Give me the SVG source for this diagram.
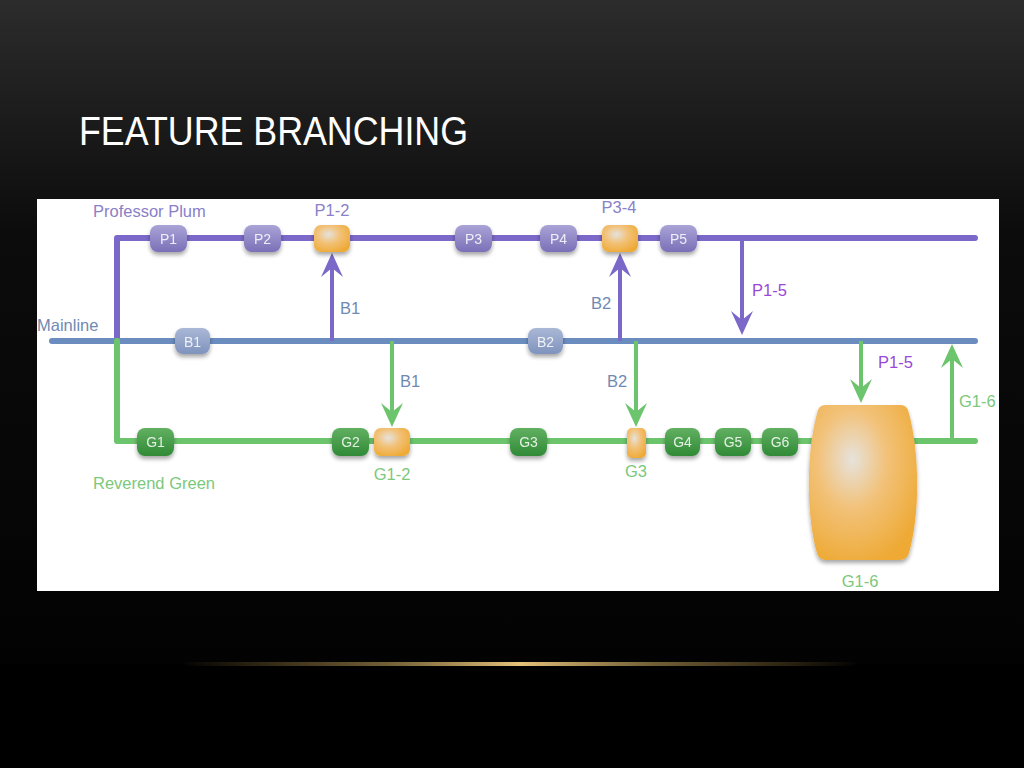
<svg xmlns="http://www.w3.org/2000/svg" width="1024" height="768" viewBox="0 0 1024 768">
<defs>
<linearGradient id="bg" x1="0" y1="0" x2="0" y2="1">
<stop offset="0" stop-color="#2c2c2c"/>
<stop offset="0.3" stop-color="#0c0c0c"/>
<stop offset="1" stop-color="#000"/>
</linearGradient>
<radialGradient id="glow" cx="0.5" cy="1" r="0.5">
<stop offset="0" stop-color="#222"/>
<stop offset="1" stop-color="#000" stop-opacity="0"/>
</radialGradient>
<linearGradient id="gold" x1="0" y1="0" x2="1" y2="0">
<stop offset="0" stop-color="#c9a24a" stop-opacity="0"/>
<stop offset="0.3" stop-color="#b89a58" stop-opacity="0.6"/>
<stop offset="0.5" stop-color="#e6c27a"/>
<stop offset="0.7" stop-color="#b89a58" stop-opacity="0.6"/>
<stop offset="1" stop-color="#c9a24a" stop-opacity="0"/>
</linearGradient>
<linearGradient id="gP" x1="0" y1="0" x2="0" y2="1">
<stop offset="0" stop-color="#aaa3d6"/>
<stop offset="1" stop-color="#7a70b8"/>
</linearGradient>
<linearGradient id="gB" x1="0" y1="0" x2="0" y2="1">
<stop offset="0" stop-color="#aab8d6"/>
<stop offset="1" stop-color="#7f93bd"/>
</linearGradient>
<linearGradient id="gG" x1="0" y1="0" x2="0" y2="1">
<stop offset="0" stop-color="#62b062"/>
<stop offset="1" stop-color="#2f8a36"/>
</linearGradient>
<radialGradient id="gO" cx="0.4" cy="0.35" r="0.7">
<stop offset="0" stop-color="#e6e2dc"/>
<stop offset="0.45" stop-color="#f2c27a"/>
<stop offset="1" stop-color="#eeaa36"/>
</radialGradient>
<filter id="sh" x="-30%" y="-30%" width="160%" height="170%">
<feGaussianBlur in="SourceAlpha" stdDeviation="2"/>
<feOffset dx="0" dy="3" result="b"/>
<feComponentTransfer><feFuncA type="linear" slope="0.35"/></feComponentTransfer>
<feMerge><feMergeNode/><feMergeNode in="SourceGraphic"/></feMerge>
</filter>
<marker id="aP" viewBox="0 0 24 22" refX="18" refY="11" markerWidth="24" markerHeight="22" markerUnits="userSpaceOnUse" orient="auto">
<path d="M24,11 L0,0 L9,11 L0,22 z" fill="#7b68c8"/>
</marker>
<marker id="aG" viewBox="0 0 24 22" refX="18" refY="11" markerWidth="24" markerHeight="22" markerUnits="userSpaceOnUse" orient="auto">
<path d="M24,11 L0,0 L9,11 L0,22 z" fill="#6cc46c"/>
</marker>
<style>
.lp{stroke:#7b68c8;stroke-width:6;fill:none;stroke-linecap:round;stroke-linejoin:round}
.lb{stroke:#6a8cbf;stroke-width:6;fill:none;stroke-linecap:round}
.lg{stroke:#6cc46c;stroke-width:6;fill:none;stroke-linecap:round;stroke-linejoin:round}
.ap{stroke:#7b68c8;stroke-width:4;fill:none;marker-end:url(#aP)}
.ag{stroke:#6cc46c;stroke-width:4;fill:none;marker-end:url(#aG)}
.nt{font-family:"Liberation Sans",Arial,sans-serif;font-size:14px;fill:#fff;fill-opacity:0.85;text-anchor:middle}
.t{font-family:"Liberation Sans",Arial,sans-serif;font-size:16.5px}
.cP{fill:#8a80c8}.cB{fill:#6f8ab2}.cG{fill:#7cc87c}.cM{fill:#9a48d8}
</style>
</defs>
<rect width="1024" height="768" fill="url(#bg)"/>
<ellipse cx="512" cy="664" rx="360" ry="75" fill="url(#glow)"/>
<rect x="0" y="664" width="1024" height="104" fill="#000"/>
<rect x="180" y="662" width="680" height="4" fill="url(#gold)"/>
<text x="79" y="145" font-family="Liberation Sans,Arial,sans-serif" font-size="41" fill="#fff" textLength="389" lengthAdjust="spacingAndGlyphs">FEATURE BRANCHING</text>
<rect x="37" y="199" width="962" height="392" fill="#fff"/>

<g id="connectors">
<path class="lp" d="M117,341 V238 H975"/>
<path class="lb" d="M52,341 H975"/>
<path class="lg" d="M117,341 V441 H975"/>
<line class="ap" x1="332" y1="341" x2="332" y2="259"/>
<line class="ap" x1="620" y1="341" x2="620" y2="259"/>
<line class="ap" x1="742" y1="238" x2="742" y2="329"/>
<line class="ag" x1="392" y1="341" x2="392" y2="421"/>
<line class="ag" x1="636" y1="341" x2="636" y2="421"/>
<line class="ag" x1="861" y1="341" x2="861" y2="397"/>
<line class="ag" x1="952" y1="441" x2="952" y2="350"/>
</g>

<g id="labels">
<text class="t cP" x="93" y="217">Professor Plum</text>
<text class="t cB" x="37" y="331">Mainline</text>
<text class="t cG" x="93" y="489">Reverend Green</text>
<text class="t cP" x="332" y="216" text-anchor="middle">P1-2</text>
<text class="t cP" x="619" y="213" text-anchor="middle">P3-4</text>
<text class="t cB" x="340" y="314">B1</text>
<text class="t cB" x="591" y="309">B2</text>
<text class="t cM" x="752" y="296">P1-5</text>
<text class="t cB" x="400" y="387">B1</text>
<text class="t cB" x="607" y="387">B2</text>
<text class="t cM" x="878" y="368">P1-5</text>
<text class="t cG" x="959" y="407">G1-6</text>
<text class="t cG" x="392" y="480" text-anchor="middle">G1-2</text>
<text class="t cG" x="636" y="477" text-anchor="middle">G3</text>
<text class="t cG" x="860" y="587" text-anchor="middle">G1-6</text>
</g>

<g id="P1" filter="url(#sh)"><rect x="150" y="225" width="37" height="27" rx="8" fill="url(#gP)"/><text class="nt" x="168.5" y="243.5">P1</text></g>
<g id="P2" filter="url(#sh)"><rect x="244" y="225" width="37" height="27" rx="8" fill="url(#gP)"/><text class="nt" x="262.5" y="243.5">P2</text></g>
<g id="P1-2" filter="url(#sh)"><rect x="314" y="225" width="36" height="27" rx="7" fill="url(#gO)"/></g>
<g id="P3" filter="url(#sh)"><rect x="455" y="225" width="37" height="27" rx="8" fill="url(#gP)"/><text class="nt" x="473.5" y="243.5">P3</text></g>
<g id="P4" filter="url(#sh)"><rect x="540" y="225" width="37" height="27" rx="8" fill="url(#gP)"/><text class="nt" x="558.5" y="243.5">P4</text></g>
<g id="P3-4" filter="url(#sh)"><rect x="602" y="225" width="36" height="27" rx="7" fill="url(#gO)"/></g>
<g id="P5" filter="url(#sh)"><rect x="660" y="225" width="37" height="27" rx="8" fill="url(#gP)"/><text class="nt" x="678.5" y="243.5">P5</text></g>

<g id="B1" filter="url(#sh)"><rect x="175" y="328" width="35" height="26" rx="8" fill="url(#gB)"/><text class="nt" x="192.5" y="346.5">B1</text></g>
<g id="B2" filter="url(#sh)"><rect x="528" y="328" width="35" height="26" rx="8" fill="url(#gB)"/><text class="nt" x="545.5" y="346.5">B2</text></g>

<g id="G1" filter="url(#sh)"><rect x="137" y="428" width="37" height="28" rx="8" fill="url(#gG)"/><text class="nt" x="155.5" y="447">G1</text></g>
<g id="G2" filter="url(#sh)"><rect x="332" y="428" width="37" height="28" rx="8" fill="url(#gG)"/><text class="nt" x="350.5" y="447">G2</text></g>
<g id="G1-2" filter="url(#sh)"><rect x="374" y="428" width="36" height="28" rx="7" fill="url(#gO)"/></g>
<g id="G3" filter="url(#sh)"><rect x="510" y="428" width="37" height="28" rx="8" fill="url(#gG)"/><text class="nt" x="528.5" y="447">G3</text></g>
<g id="G3-merge" filter="url(#sh)"><rect x="627" y="428" width="19" height="30" rx="5" fill="url(#gO)"/></g>
<g id="G4" filter="url(#sh)"><rect x="665" y="428" width="35" height="28" rx="8" fill="url(#gG)"/><text class="nt" x="682.5" y="447">G4</text></g>
<g id="G5" filter="url(#sh)"><rect x="715" y="428" width="36" height="28" rx="8" fill="url(#gG)"/><text class="nt" x="733" y="447">G5</text></g>
<g id="G6" filter="url(#sh)"><rect x="762" y="428" width="36" height="28" rx="8" fill="url(#gG)"/><text class="nt" x="780" y="447">G6</text></g>
<g id="G1-6" filter="url(#sh)"><path d="M830,405 H900 Q906,405 908,410 C920,450 920,515 909,553 Q907,560 900,560 H826 Q819,560 817,553 C806,515 806,450 818,410 Q820,405 826,405 Z" fill="url(#gO)"/></g>
</svg>
